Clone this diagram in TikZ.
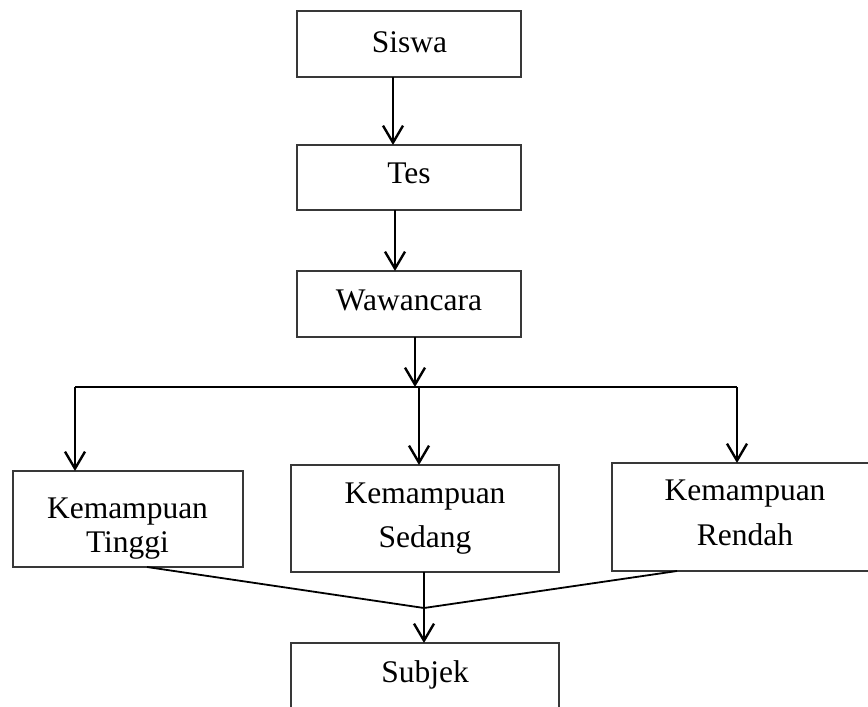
\documentclass[tikz,border=0pt]{standalone}
\usepackage{fontspec}
\setmainfont{Liberation Serif}
\usetikzlibrary{arrows.meta}
\begin{document}
\begin{tikzpicture}[x=1pt,y=-1pt,
  box/.style={draw=black!78, line width=1.3pt, rectangle, inner sep=0pt, outer sep=0pt},
  txt/.style={inner sep=0pt, outer sep=0pt, anchor=base, font=\fontsize{31.5}{36}\selectfont},
  arr/.style={line width=2.4pt, -{Straight Barb[length=17pt,width=20pt,line width=2.4pt]}},
  ln/.style={line width=2.4pt},
  thin/.style={line width=1.8pt}]
\useasboundingbox (0,0) rectangle (868,707);
\clip (0,0) rectangle (868,707);
% boxes
\node[box, minimum width=224pt, minimum height=66pt] (siswa) at (409,44) {};
\node[box, minimum width=224pt, minimum height=65pt] (tes) at (409,177.5) {};
\node[box, minimum width=224pt, minimum height=66pt] (waw) at (409,304) {};
\node[box, minimum width=230pt, minimum height=96pt] (tinggi) at (128,519) {};
\node[box, minimum width=268pt, minimum height=107pt] (sedang) at (425,518.5) {};
\node[box, minimum width=266pt, minimum height=108pt] (rendah) at (745,517) {};
\node[box, minimum width=268pt, minimum height=130pt] (subjek) at (425,708) {};
% texts
\node[txt] (tsiswa) at (409.5,52) {Siswa};
\node[txt] (ttes) at (409,183) {Tes};
\node[txt] (twaw) at (409,310) {Wawancara};
\node[txt] (ttinggiA) at (127.5,518) {Kemampuan};
\node[txt] (ttinggiB) at (127.5,552) {Tinggi};
\node[txt] (tsedangA) at (425,503) {Kemampuan};
\node[txt] (tsedangB) at (425,547) {Sedang};
\node[txt] (trendahA) at (745,500) {Kemampuan};
\node[txt] (trendahB) at (745,545) {Rendah};
\node[txt] (tsubjek) at (425,682) {Subjek};
% junction coordinates
\coordinate (j) at (415,387);
\coordinate (jl) at (75,387);
\coordinate (jm) at (419,387);
\coordinate (jr) at (737,387);
\coordinate (m) at (424,608);
% connectors
\draw[arr] ([xshift=-16pt]siswa.south) -- ([xshift=-16pt]tes.north);
\draw[arr] ([xshift=-14pt]tes.south) -- ([xshift=-14pt]waw.north);
\draw[arr] ([xshift=6pt]waw.south) -- (j);
\draw[ln] (jl) -- (jr);
\draw[arr] (jl) -- (jl |- tinggi.north);
\draw[arr] (jm) -- (jm |- sedang.north);
\draw[arr] (jr) -- (jr |- rendah.north);
\draw[thin] ([xshift=19pt]tinggi.south) -- (m);
\draw[thin] ([xshift=-68pt]rendah.south) -- (m);
\draw[arr] ([xshift=-1pt]sedang.south) -- ([xshift=-1pt]subjek.north);
\end{tikzpicture}
\end{document}
